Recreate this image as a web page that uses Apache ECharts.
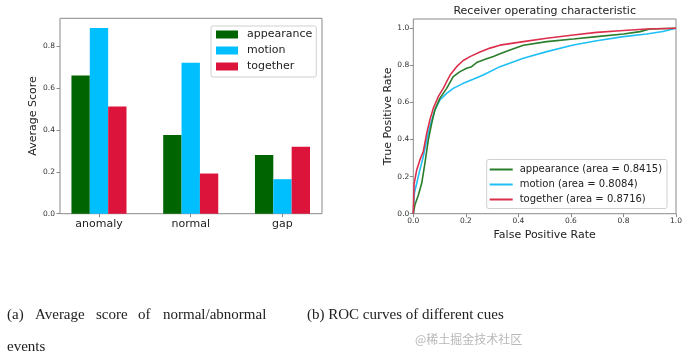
<!DOCTYPE html>
<html><head><meta charset="utf-8">
<script src="https://cdn.jsdelivr.net/npm/echarts@6/dist/echarts.min.js"></script>
<style>html,body{margin:0;padding:0;background:#fff}#c{width:692px;height:359px}</style>
</head><body><div id="c"></div>
<script>
// ---- data: left chart (average scores) ----
const categories = ['anomaly', 'normal', 'gap'];
const cueNames = ['appearance', 'motion', 'together'];
const appearanceScores = [0.660, 0.376, 0.281];
const motionScores = [0.888, 0.722, 0.165];
const togetherScores = [0.513, 0.192, 0.320];

// ---- data: right chart (ROC curves) ----
const rocNames = ['appearance (area = 0.8415)', 'motion (area = 0.8084)', 'together (area = 0.8716)'];
const appearanceFpr = [0, 0.006, 0.019, 0.032, 0.044, 0.057, 0.070, 0.082, 0.101, 0.127, 0.152, 0.178, 0.203, 0.222, 0.241, 0.279, 0.305, 0.330, 0.368, 0.419, 0.508, 0.609, 0.698, 0.800, 0.863, 0.900, 1.0];
const appearanceTpr = [0, 0.047, 0.100, 0.164, 0.270, 0.397, 0.487, 0.559, 0.622, 0.676, 0.739, 0.766, 0.784, 0.793, 0.815, 0.835, 0.848, 0.862, 0.883, 0.908, 0.928, 0.942, 0.955, 0.969, 0.982, 0.996, 1.0];
const motionFpr = [0, 0.004, 0.013, 0.025, 0.038, 0.051, 0.063, 0.082, 0.101, 0.127, 0.152, 0.190, 0.228, 0.266, 0.330, 0.419, 0.508, 0.609, 0.698, 0.800, 0.888, 0.950, 1.0];
const motionTpr = [0, 0.110, 0.164, 0.236, 0.308, 0.397, 0.469, 0.559, 0.613, 0.649, 0.676, 0.703, 0.725, 0.748, 0.793, 0.838, 0.874, 0.910, 0.933, 0.955, 0.969, 0.983, 1.0];
const togetherFpr = [0, 0.003, 0.013, 0.025, 0.038, 0.051, 0.063, 0.076, 0.095, 0.114, 0.140, 0.165, 0.190, 0.216, 0.254, 0.292, 0.330, 0.419, 0.508, 0.609, 0.698, 0.787, 0.888, 1.0];
const togetherTpr = [0, 0.160, 0.236, 0.290, 0.335, 0.433, 0.505, 0.568, 0.631, 0.676, 0.748, 0.793, 0.826, 0.847, 0.872, 0.893, 0.909, 0.928, 0.946, 0.964, 0.978, 0.987, 0.996, 1.0];

// ---- text ----
const leftYLabel = 'Average Score';
const rocTitle = 'Receiver operating characteristic';
const rocXLabel = 'False Positive Rate';
const rocYLabel = 'True Positive Rate';
const captionAWords = ['(a)', 'Average', 'score', 'of', 'normal/abnormal'];
const captionA2 = 'events';
const captionB = '(b) ROC curves of different cues';
const watermark = '@稀土掘金技术社区';

const barColors = ['#006400', '#00BFFF', '#DC143C'];
const lineColors = ['#2a7d2a', '#1EBFF5', '#DC2F4C'];
const sans = 'DejaVu Sans';
const frameColor = '#8a8a8a';
const tickLabelStyle = { fontFamily: sans, fontSize: 7.5, color: '#333' };

const pairs = (xs, ys) => xs.map((x, i) => [x, ys[i]]);
const fmt1 = v => v.toFixed(1);

const serifStyle = { fontFamily: 'Liberation Serif', fontSize: 15, fontWeight: 'normal', color: '#222' };
const wordLefts = [7, 35, 96, 138, 163];
const titles = captionAWords.map((w, i) => ({ text: w, left: wordLefts[i], top: 307.5, textStyle: serifStyle }));
titles.push({ text: captionA2, left: 7, top: 340, textStyle: serifStyle });
titles.push({ text: captionB, left: 307, top: 307.5, textStyle: serifStyle });
titles.push({ text: watermark, left: 415, top: 333.5, textStyle: { fontFamily: 'Noto Sans CJK SC', fontSize: 12, fontWeight: 'normal', color: '#b8b8b8' } });
titles.push({ text: rocTitle, left: 544.7, textAlign: 'center', top: 6, textStyle: { fontFamily: sans, fontSize: 11, fontWeight: 'normal', color: '#222' } });
titles.forEach(t => { t.padding = 0; });

const chart = echarts.init(document.getElementById('c'), null, { renderer: 'canvas' });
chart.setOption({
  animation: false,
  backgroundColor: '#fff',
  title: titles,
  grid: [
    { left: 53.1, top: 18.3, width: 275.25, height: 195.4, show: false },
    { left: 60, top: 18.3, width: 262, height: 195.4, show: true, borderColor: frameColor, borderWidth: 1 },
    { left: 413.3, top: 19, width: 262.7, height: 194.7, show: true, borderColor: frameColor, borderWidth: 1 }
  ],
  xAxis: [
    { gridIndex: 0, type: 'category', data: categories, boundaryGap: true,
      axisLine: { show: false },
      axisTick: { show: true, alignWithLabel: true, length: 3.5, lineStyle: { color: frameColor } },
      axisLabel: { fontFamily: sans, fontSize: 11, color: '#222', margin: 5 } },
    { gridIndex: 1, type: 'value', min: 0, max: 1, show: false },
    { gridIndex: 2, type: 'value', min: 0, max: 1, interval: 0.2,
      axisLine: { show: false }, splitLine: { show: false },
      axisTick: { show: true, length: 3.5, lineStyle: { color: frameColor } },
      axisLabel: Object.assign({ margin: 3, formatter: fmt1 }, tickLabelStyle),
      name: rocXLabel, nameLocation: 'middle', nameGap: 14,
      nameTextStyle: { fontFamily: sans, fontSize: 11, color: '#222' } }
  ],
  yAxis: [
    { gridIndex: 0, type: 'value', min: 0, max: 0.934, show: false },
    { gridIndex: 1, type: 'value', min: 0, max: 0.934, interval: 0.2,
      axisLine: { show: false }, splitLine: { show: false },
      axisTick: { show: true, length: 3.5, lineStyle: { color: frameColor } },
      axisLabel: Object.assign({ margin: 5, formatter: fmt1, showMaxLabel: false }, tickLabelStyle),
      name: leftYLabel, nameLocation: 'middle', nameGap: 21,
      nameTextStyle: { fontFamily: sans, fontSize: 11, color: '#222' } },
    { gridIndex: 2, type: 'value', min: 0, max: 1.05, interval: 0.2,
      axisLine: { show: false }, splitLine: { show: false },
      axisTick: { show: true, length: 3.5, lineStyle: { color: frameColor } },
      axisLabel: Object.assign({ margin: 4, formatter: fmt1, showMaxLabel: false }, tickLabelStyle),
      name: rocYLabel, nameLocation: 'middle', nameGap: 20,
      nameTextStyle: { fontFamily: sans, fontSize: 11, color: '#222' } }
  ],
  legend: [
    { data: cueNames, orient: 'vertical', left: 211, top: 26, icon: 'rect',
      itemWidth: 22, itemHeight: 8, itemGap: 5, padding: [3, 4, 5, 5],
      borderColor: '#d0d0d0', borderWidth: 1, borderRadius: 2, backgroundColor: 'rgba(255,255,255,0.85)',
      textStyle: { fontFamily: sans, fontSize: 11, color: '#222', padding: [0, 0, 0, 4] } },
    { data: rocNames, orient: 'vertical', left: 486.7, top: 159.5, icon: 'rect',
      itemWidth: 23, itemHeight: 2, itemGap: 5, padding: [5, 5, 4, 3],
      borderColor: '#d0d0d0', borderWidth: 1, borderRadius: 2, backgroundColor: 'rgba(255,255,255,0.85)',
      textStyle: { fontFamily: sans, fontSize: 10, color: '#222', padding: [0, 0, 0, 2] } }
  ],
  series: [
    { name: cueNames[0], type: 'bar', xAxisIndex: 0, yAxisIndex: 0, data: appearanceScores, barWidth: 18.35, barGap: '0%', itemStyle: { color: barColors[0] } },
    { name: cueNames[1], type: 'bar', xAxisIndex: 0, yAxisIndex: 0, data: motionScores, barWidth: 18.35, barGap: '0%', itemStyle: { color: barColors[1] } },
    { name: cueNames[2], type: 'bar', xAxisIndex: 0, yAxisIndex: 0, data: togetherScores, barWidth: 18.35, barGap: '0%', itemStyle: { color: barColors[2] } },
    { name: rocNames[0], type: 'line', xAxisIndex: 2, yAxisIndex: 2, data: pairs(appearanceFpr, appearanceTpr), symbol: 'none', lineStyle: { width: 1.6, color: lineColors[0] }, itemStyle: { color: lineColors[0] }, z: 3 },
    { name: rocNames[1], type: 'line', xAxisIndex: 2, yAxisIndex: 2, data: pairs(motionFpr, motionTpr), symbol: 'none', lineStyle: { width: 1.6, color: lineColors[1] }, itemStyle: { color: lineColors[1] }, z: 2 },
    { name: rocNames[2], type: 'line', xAxisIndex: 2, yAxisIndex: 2, data: pairs(togetherFpr, togetherTpr), symbol: 'none', lineStyle: { width: 1.6, color: lineColors[2] }, itemStyle: { color: lineColors[2] }, z: 4 }
  ]
});
</script></body></html>
